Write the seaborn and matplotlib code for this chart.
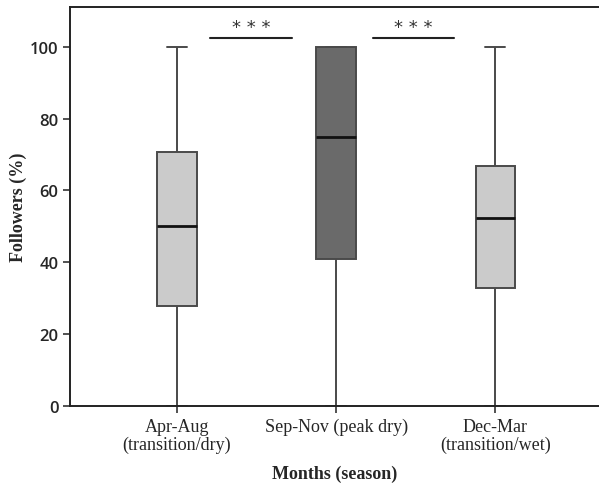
import pandas as pd
import seaborn as sns
import matplotlib.pyplot as plt

seasons = ["Apr-Aug\n(transition/dry)", "Sep-Nov (peak dry)", "Dec-Mar\n(transition/wet)"]
low = [0, 0, 0]
q1 = [27.8, 40.8, 32.9]
median = [50.0, 75.0, 52.3]
q3 = [70.8, 100.0, 66.8]
high = [100, 100, 100]
box_colors = ["#cbcbcb", "#6a6a6a", "#cbcbcb"]

# five points per season give exactly these quartiles and whisker ends
rows = []
for i, s in enumerate(seasons):
    for v in [low[i], q1[i], median[i], q3[i], high[i]]:
        rows.append({"Season": s, "Followers": v})
df = pd.DataFrame(rows)

sns.set_style("white")
plt.rcParams["font.family"] = ["Liberation Serif", "DejaVu Serif"]

fig = plt.figure(figsize=(5.99, 4.85), dpi=100)
ax = fig.add_axes([0.117, 0.161, 0.883, 0.822])

sns.boxplot(
    data=df, x="Season", y="Followers", hue="Season", order=seasons,
    palette=box_colors, legend=False, width=0.25, whis=(0, 100),
    linewidth=1.4, linecolor="#4a4a4a", showfliers=False,
    medianprops={"color": "#111111", "linewidth": 2},
    capprops={"color": "#4a4a4a"}, ax=ax,
)

ax.set_xlim(-0.67, 2.65)
ax.set_ylim(0, 111)
ax.set_yticks([0, 20, 40, 60, 80, 100])
ax.tick_params(axis="both", direction="out", length=5, width=1.2, color="#333333",
               left=True, bottom=True, labelsize=12)
for lab in ax.get_yticklabels():
    lab.set_family("Open Sans")
    lab.set_fontweight("semibold")
for lab in ax.get_xticklabels():
    lab.set_fontsize(13)
    lab.set_linespacing(1.1)

for side in ["left", "bottom", "top"]:
    ax.spines[side].set_color("#222222")
    ax.spines[side].set_linewidth(1.4)
ax.spines["right"].set_visible(False)

ax.set_xlabel("Months (season)", fontsize=13, fontweight="bold", labelpad=8)
ax.set_ylabel("Followers (%)", fontsize=13, fontweight="bold", labelpad=2)

# significance bars
for x0, x1 in [(0.21, 0.72), (1.23, 1.74)]:
    ax.plot([x0, x1], [102.5, 102.5], color="#222222", lw=1.5, clip_on=False)
    ax.text((x0 + x1) / 2, 103.0, "* * *", ha="center", va="bottom", fontsize=13,
            family="DejaVu Sans", color="#333333")

fig.savefig("out.png", dpi=100)
plt.close()
